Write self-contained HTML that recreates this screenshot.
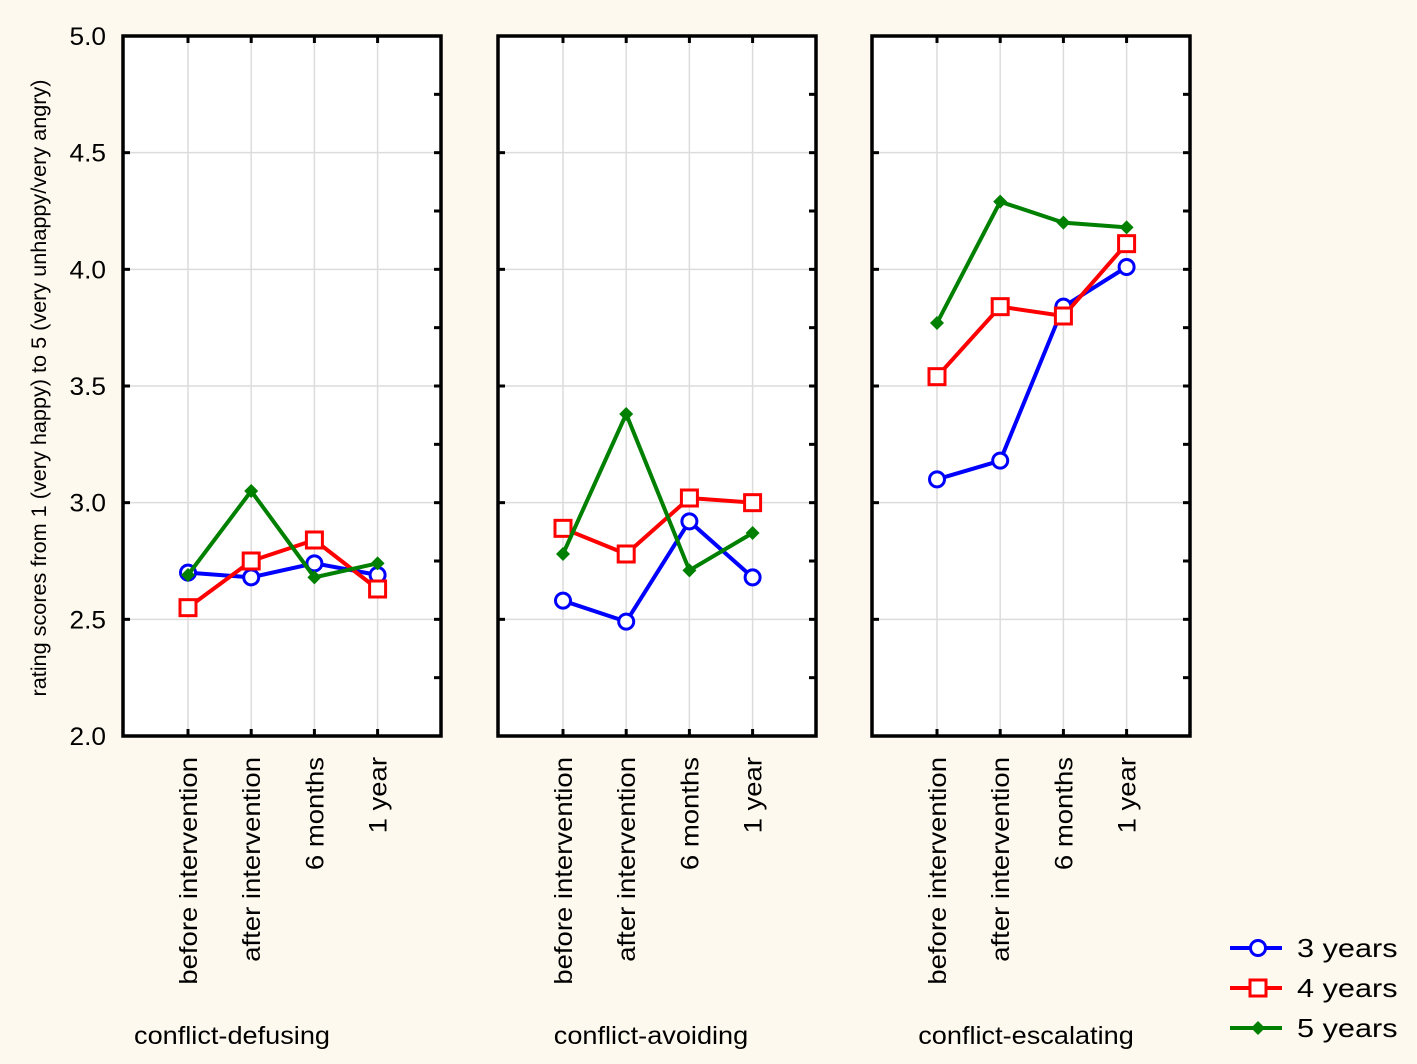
<!DOCTYPE html>
<html><head><meta charset="utf-8"><style>
html,body{margin:0;padding:0;background:#fef9ee;}
svg{display:block;font-family:"Liberation Sans",Arial,sans-serif;}
</style></head><body>
<svg id="chart" width="1417" height="1064" viewBox="0 0 1417 1064" xmlns="http://www.w3.org/2000/svg">
<rect width="1417" height="1064" fill="#fef9ee"/>
<text transform="translate(46,388) rotate(-90)" text-anchor="middle" font-size="21" textLength="617" lengthAdjust="spacingAndGlyphs" fill="#000">rating scores from 1 (very happy) to 5 (very unhappy/very angry)</text>
</svg>
<script>
const categories = ["before intervention","after intervention","6 months","1 year"];
const panels = ["conflict-defusing","conflict-avoiding","conflict-escalating"];
const seriesNames = ["3 years","4 years","5 years"];
const years3 = [[2.70,2.68,2.74,2.69],[2.58,2.49,2.92,2.68],[3.10,3.18,3.84,4.01]];
const years4 = [[2.55,2.75,2.84,2.63],[2.89,2.78,3.02,3.00],[3.54,3.84,3.80,4.11]];
const years5 = [[2.69,3.05,2.68,2.74],[2.78,3.38,2.71,2.87],[3.77,4.29,4.20,4.18]];
const yTicks = [2.0,2.5,3.0,3.5,4.0,4.5,5.0];
const yTickLabels = ["2.0","2.5","3.0","3.5","4.0","4.5","5.0"];

const NS="http://www.w3.org/2000/svg";
const svg=document.getElementById('chart');
function mk(tag,attrs,parent){const e=document.createElementNS(NS,tag);for(const k in attrs)e.setAttribute(k,attrs[k]);(parent||svg).appendChild(e);return e;}
const topY=36,botY=736,ymin=2,ymax=5;
const panelLeft=[123,498,872],pw=318;
const titleOffset=[109,153,154];
function yS(v){return botY-(v-ymin)/(ymax-ymin)*(botY-topY);}
function xS(p,i){return panelLeft[p]+65+i*63.2;}
const colors=["#0000ff","#ff0000","#008000"];
const allSeries=[years3,years4,years5];

yTicks.forEach((v,i)=>{
  const t=mk('text',{transform:`translate(106,${yS(v)+9}) scale(1.05,1)`,'text-anchor':'end','font-size':25,fill:'#000'});
  
  
  t.textContent=yTickLabels[i];
});

function marker(si,x,y,g){
  if(si===0) return mk('circle',{cx:x,cy:y,r:7.5,fill:'#fff',stroke:colors[0],'stroke-width':3},g);
  if(si===1) return mk('rect',{x:x-8,y:y-8,width:16,height:16,fill:'#fff',stroke:colors[1],'stroke-width':3},g);
  return mk('polygon',{points:`${x},${y-7} ${x+7},${y} ${x},${y+7} ${x-7},${y}`,fill:colors[2]},g);
}

panels.forEach((name,p)=>{
  const g=mk('g',{});
  
  
  const L=panelLeft[p],R=L+pw;
  mk('rect',{x:L,y:topY,width:pw,height:botY-topY,fill:'#fff'},g);
  yTicks.forEach(v=>{ if(v>ymin&&v<ymax) mk('line',{x1:L,x2:R,y1:yS(v),y2:yS(v),stroke:'#dcdcdc','stroke-width':1.5},g);});
  categories.forEach((c,i)=>{ mk('line',{x1:xS(p,i),x2:xS(p,i),y1:topY,y2:botY,stroke:'#dcdcdc','stroke-width':1.5},g);});
  categories.forEach((c,i)=>{
    mk('line',{x1:xS(p,i),x2:xS(p,i),y1:topY,y2:topY+7,stroke:'#000','stroke-width':3},g);
    mk('line',{x1:xS(p,i),x2:xS(p,i),y1:botY,y2:botY-7,stroke:'#000','stroke-width':3},g);
  });
  for(let v=2.25;v<5;v+=0.25){
    mk('line',{x1:R,x2:R-7,y1:yS(v),y2:yS(v),stroke:'#000','stroke-width':3},g);
    if(Math.abs(v*2-Math.round(v*2))<1e-6) mk('line',{x1:L,x2:L+7,y1:yS(v),y2:yS(v),stroke:'#000','stroke-width':3},g);
  }
  mk('rect',{x:L,y:topY,width:pw,height:botY-topY,fill:'none',stroke:'#000','stroke-width':3.5},g);
  categories.forEach((c,i)=>{
    const t=mk('text',{transform:`translate(${xS(p,i)+9},${757}) rotate(-90) scale(1.1,1)`,'text-anchor':'end','font-size':25,fill:'#000'},g);
    
    
    t.textContent=c;
  });
  const pt=mk('text',{transform:`translate(${L+titleOffset[p]},1044) scale(1.085,1)`,'text-anchor':'middle','font-size':25,fill:'#000'},g);
  
  
  pt.textContent=name;
  allSeries.forEach((s,si)=>{
    const vals=s[p];
    const pl=mk('polyline',{points:vals.map((v,i)=>xS(p,i)+','+yS(v)).join(' '),fill:'none',stroke:colors[si],'stroke-width':4},g);
    
    
    vals.forEach((v,i)=>{
      const m=marker(si,xS(p,i),yS(v),g);
      
      
    });
  });
});
seriesNames.forEach((n,si)=>{
  const g=mk('g',{});
  
  
  const y=948+si*40,x1=1230,x2=1282,xm=1258;
  mk('line',{x1:x1,x2:x2,y1:y,y2:y,stroke:colors[si],'stroke-width':4},g);
  marker(si,xm,y,g);
  const t=mk('text',{transform:`translate(1297,${y+9}) scale(1.18,1)`,'font-size':26,fill:'#000'},g);
  t.textContent=n;
});
</script>
</body></html>
